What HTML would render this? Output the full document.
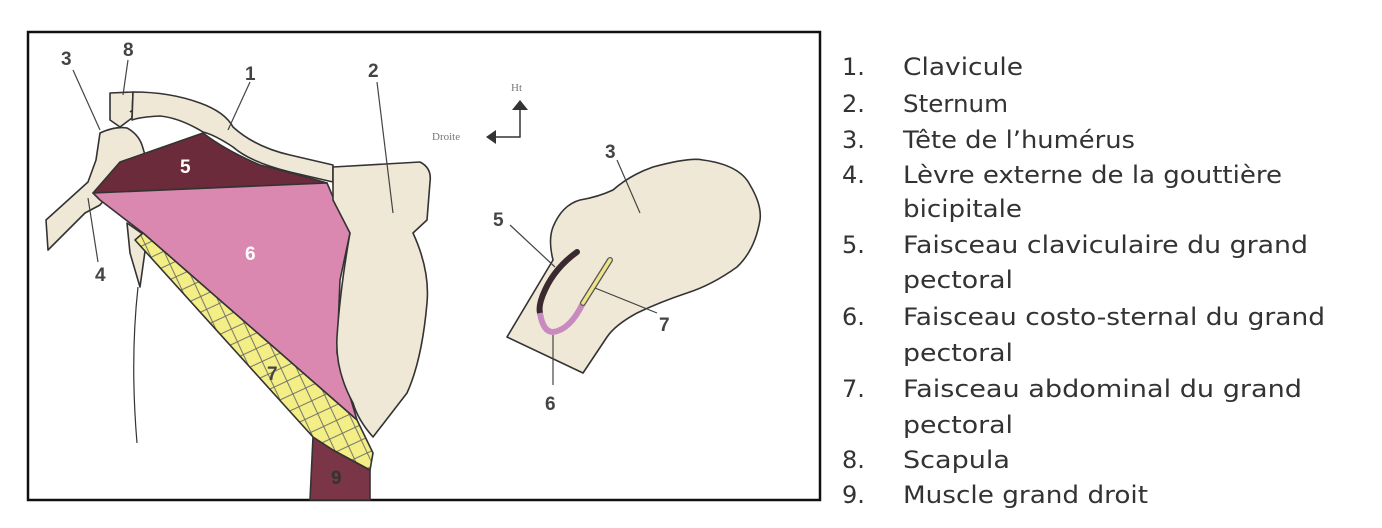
<!DOCTYPE html>
<html><head><meta charset="utf-8"><style>
html,body{margin:0;padding:0;background:#fff;}
svg{display:block;}
</style></head><body>
<svg width="1382" height="528" viewBox="0 0 1382 528" xmlns="http://www.w3.org/2000/svg">
<defs>
<pattern id="hatch" width="20" height="20" patternUnits="userSpaceOnUse" patternTransform="rotate(20)">
<rect width="20" height="20" fill="#f4ee86"/>
<path d="M0 0L20 20M20 0L0 20" stroke="#666" stroke-width="0.9"/>
</pattern>
</defs>
<rect x="28" y="32" width="792" height="468" fill="#fff" stroke="#111" stroke-width="2.5"/>
<g stroke="#333" stroke-width="1.6" stroke-linejoin="round">
<path d="M100,133 Q115,126 127,128 Q138,134 142,145 L145,155 L120,180 L100,205 L85,213 L48,250 L46,220 L88,182 L96,160 Z" fill="#efe8d6"/>
<path d="M127,223 L147,237 L140,287 L130,253 Z" fill="#efe8d6"/>
<path d="M138,287 Q130,360 137,443" fill="none" stroke-width="1.2"/>
<path d="M110,93 L133,92 L132,118 L120,127 L110,120 Z" fill="#efe8d6"/>
<path d="M130,112 Q140,104 163,116" fill="none"/>
<path d="M133,92 Q170,92 200,103 Q225,112 233,127 Q255,147 290,155 L333,165 L333,182 L290,172 Q250,162 233,147 Q215,135 203,132 Q180,118 160,116 Q140,117 132,120 Z" fill="#efe8d6"/>
<path d="M120,162 L203,133 Q225,150 260,165 Q300,175 327,183 L93,193 Z" fill="#6c2b3b"/>
<path d="M93,193 L327,183 L333,197 L350,233 L340,280 L337,353 L357,420 L143,233 L100,200 Z" fill="#da88b0"/>
<path d="M313,437 L333,450 L370,470 L370,500 L310,500 Z" fill="#7a3646"/>
<path d="M143,233 L357,420 L373,453 L370,470 L333,450 L313,437 L135,240 Z" fill="url(#hatch)"/>
<path d="M333,167 L420,162 Q432,168 430,182 L427,220 L413,233 Q430,270 427,303 Q422,360 407,393 L373,437 Q358,420 353,403 Q335,370 337,337 Q340,290 350,233 L333,200 Z" fill="#efe8d6"/>
<path d="M507,337 L553,260 Q548,240 553,227 Q562,205 580,200 Q598,197 613,190 Q630,175 653,167 Q690,157 703,160 Q740,165 750,185 Q762,205 760,220 Q755,250 737,267 Q712,285 687,293 Q660,302 637,313 Q615,325 607,337 L583,373 Z" fill="#efe8d6"/>
</g>
<path d="M577,252 Q555,268 545,290 Q538,305 540,313" fill="none" stroke="#3a2a30" stroke-width="6" stroke-linecap="round"/>
<path d="M540,313 Q543,332 553,332 Q570,330 583,303" fill="none" stroke="#c98ac0" stroke-width="6"/>
<path d="M583,303 L610,260" fill="none" stroke="#555" stroke-width="6" stroke-linecap="round"/>
<path d="M583,303 L610,260" fill="none" stroke="#eee58a" stroke-width="3.5" stroke-linecap="round"/>
<g stroke="#444" stroke-width="1.2" fill="none">
<path d="M73,70 L100,130"/><path d="M128,60 L123,95"/><path d="M250,82 L228,130"/>
<path d="M377,82 L393,213"/><path d="M98,262 L88,198"/>
<path d="M617,160 L640,213"/><path d="M510,225 L555,267"/>
<path d="M657,313 L595,288"/><path d="M553,335 L553,385"/>
<path d="M520,108 L520,137 L495,137" stroke="#333" stroke-width="1.5"/>
</g>
<path d="M512,110 L520,100 L528,110 Z" fill="#333"/>
<path d="M496,130 L486,137 L496,144 Z" fill="#333"/>
<g font-family="Liberation Serif, serif" font-size="11" fill="#777">
<text x="511" y="91">Ht</text><text x="432" y="140">Droite</text>
</g>
<g font-family="Liberation Sans, sans-serif" font-size="19" font-weight="bold" fill="#444">
<text x="61" y="65">3</text><text x="123" y="56">8</text><text x="245" y="80">1</text>
<text x="368" y="77">2</text><text x="95" y="281">4</text>
<text x="180" y="173" fill="#fff">5</text><text x="245" y="260" fill="#fff">6</text>
<text x="267" y="380">7</text><text x="331" y="484" fill="#333">9</text>
<text x="605" y="158">3</text><text x="493" y="226">5</text>
<text x="659" y="331">7</text><text x="545" y="410">6</text>
</g>
<g font-family="DejaVu Sans, sans-serif" font-size="24" fill="#333">
<text x="842" y="75">1.</text><text x="903" y="75" textLength="120" lengthAdjust="spacingAndGlyphs">Clavicule</text>
<text x="842" y="112">2.</text><text x="903" y="112" textLength="105" lengthAdjust="spacingAndGlyphs">Sternum</text>
<text x="842" y="148">3.</text><text x="903" y="148" textLength="232" lengthAdjust="spacingAndGlyphs">Tête de l’humérus</text>
<text x="842" y="183">4.</text><text x="903" y="183" textLength="379" lengthAdjust="spacingAndGlyphs">Lèvre externe de la gouttière</text>
<text x="903" y="217" textLength="119" lengthAdjust="spacingAndGlyphs">bicipitale</text>
<text x="842" y="253">5.</text><text x="903" y="253" textLength="405" lengthAdjust="spacingAndGlyphs">Faisceau claviculaire du grand</text>
<text x="903" y="288" textLength="110" lengthAdjust="spacingAndGlyphs">pectoral</text>
<text x="842" y="325">6.</text><text x="903" y="325" textLength="422" lengthAdjust="spacingAndGlyphs">Faisceau costo-sternal du grand</text>
<text x="903" y="361" textLength="110" lengthAdjust="spacingAndGlyphs">pectoral</text>
<text x="842" y="397">7.</text><text x="903" y="397" textLength="399" lengthAdjust="spacingAndGlyphs">Faisceau abdominal du grand</text>
<text x="903" y="433" textLength="110" lengthAdjust="spacingAndGlyphs">pectoral</text>
<text x="842" y="468">8.</text><text x="903" y="468" textLength="107" lengthAdjust="spacingAndGlyphs">Scapula</text>
<text x="842" y="503">9.</text><text x="903" y="503" textLength="245" lengthAdjust="spacingAndGlyphs">Muscle grand droit</text>
</g>
</svg>
</body></html>
